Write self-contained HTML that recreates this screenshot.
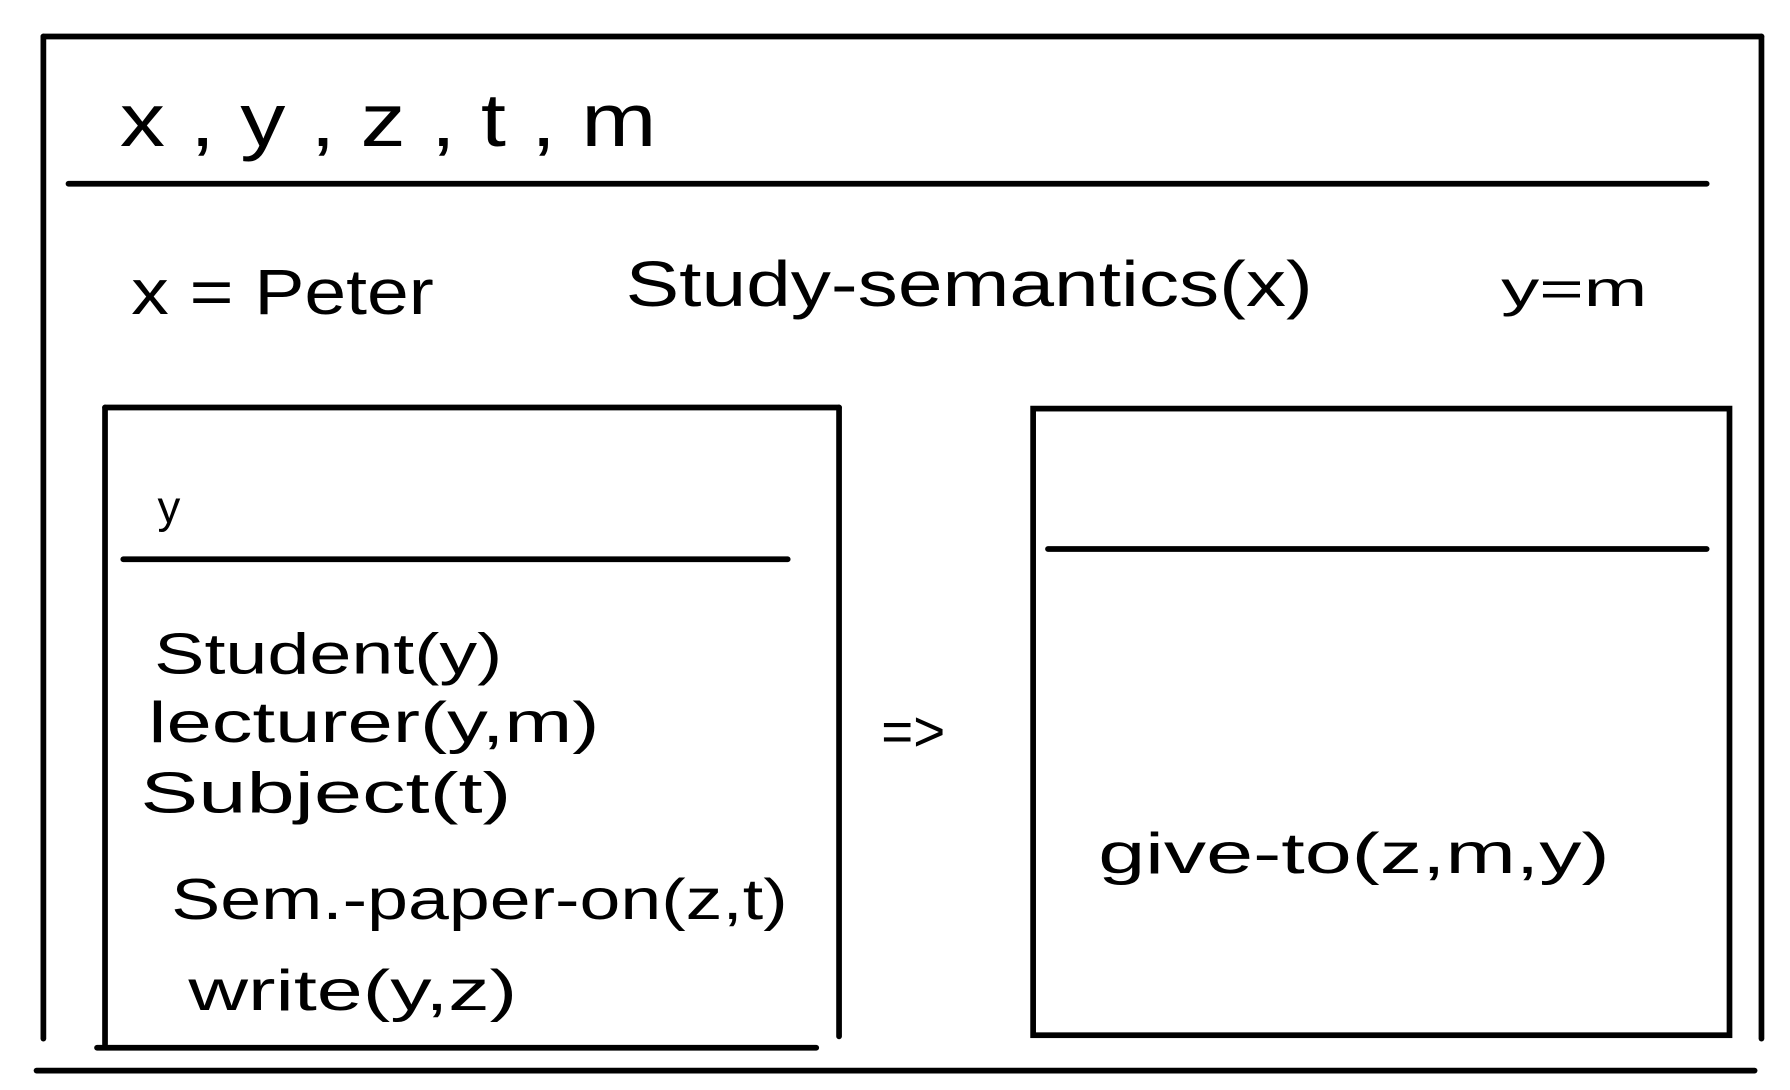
<!DOCTYPE html>
<html><head><meta charset="utf-8"><style>
html,body{margin:0;padding:0;background:#fff;}
svg{display:block;}
text{font-family:"Liberation Sans",sans-serif;fill:#000;}
</style></head><body>
<svg width="1790" height="1090" viewBox="0 0 1568 955" preserveAspectRatio="none">
<g stroke="#000" stroke-width="5" fill="none" stroke-linecap="round">
<line x1="38" y1="32" x2="1543" y2="32"/>
<line x1="38" y1="32" x2="38" y2="910"/>
<line x1="1543" y1="32" x2="1543" y2="910"/>
<line x1="32" y1="938" x2="1537" y2="938"/>
<line x1="60" y1="161" x2="1495" y2="161"/>
<line x1="92" y1="357" x2="735" y2="357"/>
<line x1="92" y1="357" x2="92" y2="915"/>
<line x1="735" y1="357" x2="735" y2="908"/>
<line x1="85" y1="918" x2="715" y2="918"/>
<line x1="108" y1="490" x2="690" y2="490"/>
<rect x="905" y="358" width="610" height="549"/>
<line x1="918" y1="481" x2="1495" y2="481"/>
</g>
<text x="105" y="128" font-size="66" textLength="470" lengthAdjust="spacingAndGlyphs">x , y , z , t , m</text>
<text x="115" y="275" font-size="56" textLength="265" lengthAdjust="spacingAndGlyphs">x = Peter</text>
<text x="548" y="268" font-size="56" textLength="602" lengthAdjust="spacingAndGlyphs">Study-semantics(x)</text>
<text x="1315" y="268" font-size="44" textLength="128" lengthAdjust="spacingAndGlyphs">y=m</text>
<text x="138" y="458" font-size="40">y</text>
<text x="135" y="590" font-size="50" textLength="305" lengthAdjust="spacingAndGlyphs">Student(y)</text>
<text x="130" y="650" font-size="50" textLength="395" lengthAdjust="spacingAndGlyphs">lecturer(y,m)</text>
<text x="123" y="712" font-size="50" textLength="325" lengthAdjust="spacingAndGlyphs">Subject(t)</text>
<text x="150" y="805" font-size="50" textLength="540" lengthAdjust="spacingAndGlyphs">Sem.-paper-on(z,t)</text>
<text x="165" y="885" font-size="50" textLength="288" lengthAdjust="spacingAndGlyphs">write(y,z)</text>
<text x="772" y="658" font-size="50" textLength="56" lengthAdjust="spacingAndGlyphs">=&gt;</text>
<text x="962" y="765" font-size="50" textLength="448" lengthAdjust="spacingAndGlyphs">give-to(z,m,y)</text>
</svg>
</body></html>
